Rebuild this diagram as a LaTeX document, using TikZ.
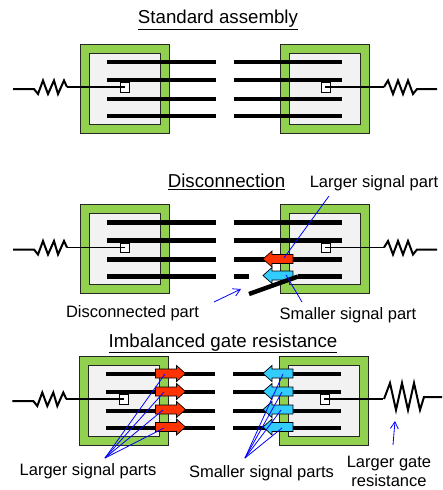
\documentclass[tikz,border=0pt]{standalone}
\usepackage{fontspec}
\setmainfont{Liberation Sans}
\usetikzlibrary{arrows.meta}
\definecolor{pkgreen}{RGB}{146,208,80}
\definecolor{inner}{RGB}{242,242,242}
\definecolor{sigred}{RGB}{255,51,0}
\definecolor{sigblue}{RGB}{51,204,255}
\definecolor{leader}{RGB}{0,0,255}
\tikzset{
  x=1pt,y=-1pt,
  outerbox/.style={draw=black!85,line width=0.9pt,fill=pkgreen},
  innerbox/.style={draw=black!85,line width=0.9pt,fill=inner},
  bar/.style={line width=4.2pt,black},
  gatebox/.style={draw=black,line width=0.8pt,fill=white},
  wire/.style={line width=1.6pt,black,line join=miter},
  res/.style={line width=2pt,black,line join=miter},
  sig/.style={draw=black,line width=0.7pt,line join=miter},
  lead/.style={draw=leader,line width=0.8pt},
  leadarrow/.style={draw=leader,line width=0.8pt,-{Straight Barb[length=7pt,width=8pt,line width=0.8pt]}},
  title/.style={font=\fontsize{18.7}{20}\selectfont,inner sep=0pt,anchor=center},
  lab/.style={font=\fontsize{16.5}{19}\selectfont,inner sep=0pt,anchor=center,align=center},
}
\newcommand{\assembly}[3]{%
  \begin{scope}[shift={(#2,#1)}]
    \draw[outerbox] (80,0) rectangle (169,89);
    \draw[innerbox] (89,9) rectangle (160,80);
    \draw[outerbox] (280,0) rectangle (369,89);
    \draw[innerbox] (289,9) rectangle (360,80);
    \foreach \yy in {18,36,55,72} \draw[bar] (107,\yy) -- (216,\yy);
    \foreach \yy in {18,36,55} \draw[bar] (234,\yy) -- (342,\yy);
    #3
    \draw[gatebox] (120,38.500) rectangle (129,48);
    \draw[gatebox] (321,38.500) rectangle (330,48);
    \draw[res] (13,45) -- (34,45) -- (38,50) -- (43,36.500) -- (48,50) -- (54,36.500) -- (58,50) -- (64,36.500) -- (67,43);
    \draw[wire] (67,43) -- (125,43);
    \draw[wire] (325,43) -- (384,43);
  \end{scope}}
\newcommand{\rightres}[1]{%
  \begin{scope}[shift={(0,#1)}]
    \draw[res] (384,43) -- (388,36.500) -- (393,50) -- (398,36.500) -- (403,50) -- (408,36.500) -- (413,50) -- (417,45) -- (437,45);
  \end{scope}}
\newcommand{\sigarrow}[4]{%
  \begin{scope}[shift={(#1,#2)},xscale=#3]
    \fill[#4,sig] (0,-4.500) -- (21,-4.500) -- (21,-8) -- (30,0) -- (21,8) -- (21,4.500) -- (0,4.500) -- cycle;
  \end{scope}}
\begin{document}
\begin{tikzpicture}
\useasboundingbox (0,0) rectangle (442,490);
\fill[white] (0,0) rectangle (442,490);

% ---- Standard assembly
\node[title] (t1) at (218,20) {\underline{Standard assembly}};
\assembly{44}{0}{\draw[bar] (234,72) -- (342,72);}
\rightres{44}

% ---- Disconnection
\node[title] (t2) at (226.500,182) {\underline{Disconnection}};
\assembly{204.500}{0}{%
  \draw[bar] (234,72) -- (249,72);
  \draw[bar] (298,72) -- (342,72);}
\rightres{204.500}
\sigarrow{293}{259}{-1}{sigred}
\sigarrow{293}{275.500}{-1}{sigblue}
\draw[line width=4.4pt,black] (249,294) -- (298,276.500);
\node[lab] (larger) at (374,183) {Larger signal part};
\node[lab] (smaller) at (348,315) {Smaller signal part};
\node[lab] (disc) at (132.500,313.500) {Disconnected part};
\coordinate (la) at (329,196);
\coordinate (lb) at (284,258);
\draw[lead] (la) -- (lb);
\coordinate (sa) at (302,302);
\coordinate (sb) at (286,275);
\draw[lead] (sa) -- (sb);
\coordinate (da) at (214,302);
\coordinate (db) at (241,289);
\draw[leadarrow] (da) -- (db);

% ---- Imbalanced gate resistance
\node[title] (t3) at (223,343.500) {\underline{Imbalanced gate resistance}};
\assembly{356}{-0.700}{\draw[bar] (234,72) -- (342,72);}
\foreach \yy in {373.500,391.500,409.500,427}{
  \sigarrow{155.500}{\yy}{1}{sigred}
  \sigarrow{293}{\yy}{-1}{sigblue}
}
\draw[res] (384,399) -- (390,383) -- (396,410) -- (402,383) -- (408,410) -- (414,383) -- (420,410) -- (424,397) -- (442,397);
\node[lab] (lsp) at (88,471.500) {Larger signal parts};
\node[lab] (ssp) at (261.500,473) {Smaller signal parts};
\node[lab] (lgr) at (389,471.500) {Larger gate\\resistance};
\coordinate (lapex) at (105,458);
\coordinate (rapex) at (245,458);
\foreach \xa/\ya/\xb/\yb in {165/374/283/374,164/392/282/392,163/410/281/410,164/428/282/428}{
  \draw[lead] (lapex) -- (\xa,\ya);
  \draw[lead] (rapex) -- (\xb,\yb);
}
\coordinate (ga) at (393,445);
\coordinate (gb) at (395,421);
\draw[leadarrow] (ga) -- (gb);
\end{tikzpicture}
\end{document}
